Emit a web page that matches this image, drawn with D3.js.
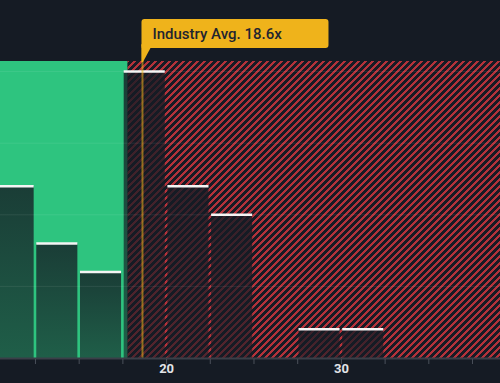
<!DOCTYPE html>
<html>
<head>
<meta charset="utf-8">
<script src="https://cdnjs.cloudflare.com/ajax/libs/d3/7.8.5/d3.min.js"></script>
<style>
  html, body { margin: 0; padding: 0; background: #151b24; }
  svg { display: block; }
</style>
</head>
<body>
<svg id="chart" width="500" height="383"></svg>
<script>
// ---- data ----
const binStarts = [10, 12.5, 15, 17.5, 20, 22.5, 25, 27.5, 30];
const binWidth = 2.5;
const counts = [6, 4, 3, 10, 6, 5, 0, 1, 1];
const companyValue = 17.8;      // edge of green (good value) zone
const industryAvg = 18.65;
const industryLabel = "Industry Avg. 18.6x";
const tickValues = [12.5, 15, 17.5, 20, 22.5, 25, 27.5, 30, 32.5, 35, 37.5];
const labeledTicks = [20, 30];
const gridValues = [2.5, 5, 7.5, 10];

// ---- layout ----
const W = 500, H = 383;
const plotTop = 61, plotBottom = 358;
const svg = d3.select("#chart");

const x = d3.scaleLinear().domain([10.5, 39.1]).range([0, W]);
const y = d3.scaleLinear().domain([0, 10.37]).range([plotBottom, plotTop]);

const P = 7;
const defs = svg.append("defs");
const pat = defs.append("pattern")
  .attr("id", "hatch").attr("patternUnits", "userSpaceOnUse")
  .attr("width", P).attr("height", P);
pat.append("rect").attr("width", P).attr("height", P).attr("fill", "#171b25");
pat.append("path")
  .attr("d", `M-1,1 l2,-2 M0,${P} l${P},-${P} M${P - 1},${P + 1} l2,-2`)
  .attr("stroke", "#b3323a").attr("stroke-width", 2.4)
  .attr("shape-rendering", "crispEdges");

const grad = defs.append("linearGradient")
  .attr("id", "barGrad").attr("x1", 0).attr("y1", 0).attr("x2", 0).attr("y2", 1);
grad.append("stop").attr("offset", "0%").attr("stop-color", "#151b24").attr("stop-opacity", 0.8);
grad.append("stop").attr("offset", "100%").attr("stop-color", "#151b24").attr("stop-opacity", 0.6);

// green zone
svg.append("rect")
  .attr("x", 0).attr("y", plotTop)
  .attr("width", x(companyValue))
  .attr("height", plotBottom - plotTop)
  .attr("fill", "#2ec47f");

// hatched zone
svg.append("rect")
  .attr("x", x(companyValue)).attr("y", plotTop)
  .attr("width", W - x(companyValue))
  .attr("height", plotBottom - plotTop)
  .attr("fill", "url(#hatch)");

// bars
const bins = binStarts.map((s, i) => ({ s, e: s + binWidth, c: counts[i] }));
const inset = 1.3;
svg.append("g").selectAll("rect").data(bins.filter(d => d.c > 0)).join("rect")
  .attr("x", d => x(d.s) + inset)
  .attr("y", d => y(d.c))
  .attr("width", d => x(d.e) - x(d.s) - 2 * inset)
  .attr("height", d => y(0) - y(d.c))
  .attr("fill", "url(#barGrad)");

// gridlines
svg.append("g").selectAll("line").data(gridValues).join("line")
  .attr("x1", 0).attr("x2", W)
  .attr("y1", d => y(d)).attr("y2", d => y(d))
  .attr("stroke", "#ffffff").attr("stroke-opacity", 0.08).attr("stroke-width", 1);

// bar top lines
svg.append("g").selectAll("line").data(bins.filter(d => d.c > 0)).join("line")
  .attr("x1", d => x(d.s) + inset)
  .attr("x2", d => x(d.e) - inset)
  .attr("y1", d => y(d.c)).attr("y2", d => y(d.c))
  .attr("stroke", "#f4f4f4").attr("stroke-width", 2.5);

// industry average line
const ax = x(industryAvg);
svg.append("line")
  .attr("x1", ax).attr("x2", ax)
  .attr("y1", 48).attr("y2", plotBottom)
  .attr("stroke", "#f0b41c").attr("stroke-opacity", 0.55).attr("stroke-width", 2);

// label box with pointer
const boxX = ax - 1, boxY = 19, boxW = 187, boxH = 29;
const lbl = svg.append("g");
lbl.append("rect")
  .attr("x", boxX).attr("y", boxY).attr("width", boxW).attr("height", boxH)
  .attr("rx", 3).attr("fill", "#efb31b");
lbl.append("path")
  .attr("d", `M${boxX},${boxY + boxH - 3} L${boxX + 9},${boxY + boxH} L${boxX + 1.5},${plotTop + 1} L${boxX},${plotTop + 1} Z`)
  .attr("fill", "#efb31b");
lbl.append("rect")
  .attr("x", boxX).attr("y", boxY + boxH - 4).attr("width", 4).attr("height", 4)
  .attr("fill", "#efb31b");
lbl.append("text")
  .attr("x", boxX + 11).attr("y", boxY + 19.5)
  .attr("font-family", "Roboto, 'Noto Sans', sans-serif")
  .attr("font-size", 15).attr("font-weight", 500)
  .attr("fill", "#1f2530")
  .text(industryLabel);

// x axis
const axisG = svg.append("g").attr("transform", `translate(0,${plotBottom})`);
axisG.append("line").attr("x1", 0).attr("x2", W).attr("y1", 0.5).attr("y2", 0.5)
  .attr("stroke", "#3a3f48").attr("stroke-width", 2);
const xAxis = d3.axisBottom(x).tickValues(tickValues).tickSize(5)
  .tickFormat(d => labeledTicks.includes(d) ? d3.format("d")(d) : "");
const ag = axisG.append("g").attr("transform", "translate(0,1)").call(xAxis);
ag.select(".domain").remove();
ag.selectAll(".tick line").attr("stroke", "#4a505a");
ag.selectAll(".tick text")
  .attr("y", 14)
  .attr("dy", 0)
  .attr("font-family", "Roboto, 'Noto Sans', sans-serif")
  .attr("font-size", 13).attr("font-weight", 700)
  .attr("fill", "#e2e4e8");
</script>
</body>
</html>
